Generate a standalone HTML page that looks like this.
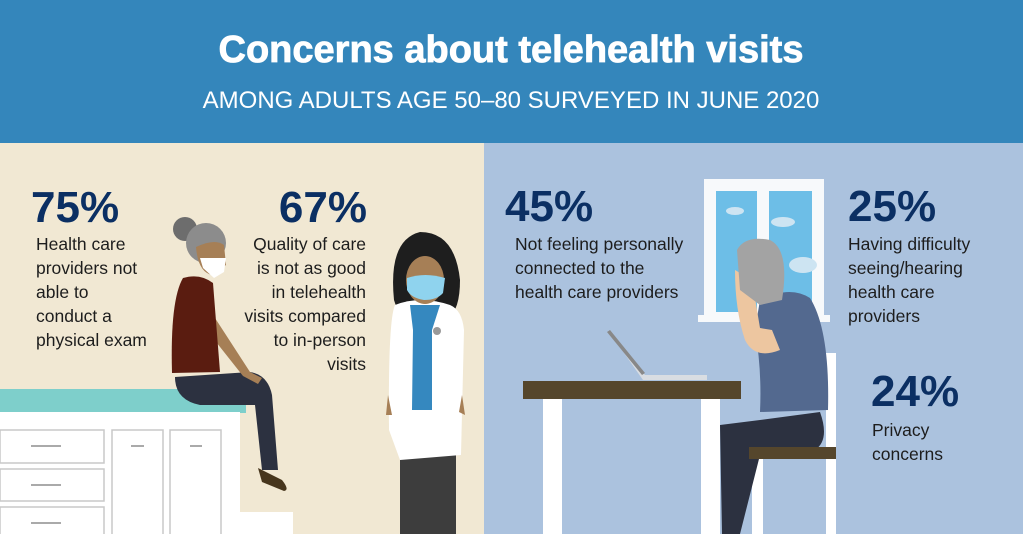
<!DOCTYPE html>
<html><head><meta charset="utf-8"><style>
body{margin:0;width:1023px;height:534px;overflow:hidden;font-family:"Liberation Sans",sans-serif}
svg{display:block}
.big{font-family:"Liberation Sans",sans-serif;font-weight:bold;font-size:44px;fill:#0b2f63}
.t{font-family:"Liberation Sans",sans-serif;font-size:17.5px;fill:#1d1d1d}
</style></head><body>
<svg width="1023" height="534" viewBox="0 0 1023 534">
<rect x="0" y="0" width="1023" height="143" fill="#3486bb"/>
<text x="511" y="62" text-anchor="middle" font-size="38" font-weight="bold" fill="#fff" font-family="Liberation Sans" stroke="#fff" stroke-width="0.8">Concerns about telehealth visits</text>
<text x="511" y="108" text-anchor="middle" font-size="24" fill="#fff" font-family="Liberation Sans">AMONG ADULTS AGE 50–80 SURVEYED IN JUNE 2020</text>
<rect x="0" y="143" width="484" height="391" fill="#f1e8d3"/>
<rect x="484" y="143" width="539" height="391" fill="#abc2de"/>

<g>
<rect x="240" y="512" width="53" height="22" fill="#fff"/>
<rect x="0" y="389" width="246" height="24" fill="#7ecfcb"/>
<rect x="0" y="412" width="240" height="122" fill="#fff"/>
<g fill="none" stroke="#c8c8c8" stroke-width="1.5">
<rect x="0" y="430" width="104" height="33"/><rect x="0" y="469" width="104" height="32"/><rect x="0" y="507" width="104" height="30"/>
<rect x="112" y="430" width="51" height="106"/><rect x="170" y="430" width="51" height="106"/></g>
<g stroke="#aaa" stroke-width="2"><line x1="31" y1="446" x2="61" y2="446"/><line x1="31" y1="485" x2="61" y2="485"/><line x1="31" y1="523" x2="61" y2="523"/><line x1="131" y1="446" x2="144" y2="446"/><line x1="190" y1="446" x2="202" y2="446"/></g>
</g>
<g>
<path d="M175 377 Q175 400 200 405 L255 405 L262 470 L278 470 L272 395 Q268 375 250 372 Z" fill="#2c3140"/>
<path d="M258 468 L282 480 Q290 490 284 491 L262 482 Z" fill="#47361d"/>
<path d="M192 290 Q210 300 215 318 L250 372 L262 378 L258 384 L243 376 L205 328 Z" fill="#a67f56"/>
<path d="M183 278 Q200 273 213 283 L220 372 L172 373 Q170 300 183 278 Z" fill="#5a1c10"/>
<circle cx="185" cy="229" r="12" fill="#6d6d6d"/>
<ellipse cx="206" cy="243" rx="20" ry="20" fill="#8c8c8c"/>
<path d="M196 247 Q198 272 212 275 L226 265 L224 245 Q215 238 196 247 Z" fill="#a67f56"/>
<path d="M200 258 L226 258 L224 272 L214 278 L203 268 Z" fill="#fff"/>
</g>
<g>
<path d="M394 300 Q388 240 420 232 Q455 232 460 280 Q460 310 448 318 L400 318 Z" fill="#1e1e1e"/>
<rect x="400" y="455" width="56" height="79" fill="#3d3d3d"/>
<path d="M395 305 Q420 295 450 305 Q462 310 464 330 L461 455 L400 460 L389 430 Q388 320 395 305 Z" fill="#fff"/>
<path d="M410 305 L440 305 L432 330 L432 410 L412 410 L413 330 Z" fill="#3588bf"/>
<circle cx="437" cy="331" r="4" fill="#999"/>
<path d="M388 395 L386 415 L392 415 Z M462 395 L465 415 L459 412 Z" fill="#a67f56"/>
<ellipse cx="425" cy="280" rx="19" ry="24" fill="#a67f56"/>
<path d="M407 278 Q425 272 445 278 L443 293 Q437 300 424 300 Q411 298 407 290 Z" fill="#8fd3ee"/>
</g>
<g>
<rect x="704" y="179" width="120" height="142" fill="#f7f9fb"/>
<rect x="716" y="191" width="41" height="121" fill="#6dbee7"/>
<rect x="769" y="191" width="43" height="121" fill="#6dbee7"/>
<rect x="698" y="315" width="132" height="7" fill="#f7f9fb"/>
<ellipse cx="735" cy="211" rx="9" ry="4" fill="#cde4f2"/><ellipse cx="783" cy="222" rx="12" ry="5" fill="#cde4f2"/><ellipse cx="803" cy="265" rx="14" ry="8" fill="#cde4f2"/>
</g>
<g>
<rect x="543" y="397" width="19" height="137" fill="#fff"/><rect x="701" y="397" width="19" height="137" fill="#fff"/>
<rect x="523" y="381" width="218" height="18" fill="#55462c"/>
<path d="M608 330 L645 375 L707 375 L707 380 L643 380 Z" fill="#d9dde2"/>
<path d="M610 330 L645 373 L642 375 L607 332 Z" fill="#888"/>
</g>
<g>
<rect x="826" y="353" width="10" height="181" fill="#fff"/>
<rect x="752" y="457" width="11" height="77" fill="#fff"/>
<path d="M720 425 L760 420 L820 412 Q830 440 815 450 L760 455 L740 534 L722 534 Z" fill="#2c3140"/>
<rect x="749" y="447" width="87" height="12" fill="#55462c"/>
<path d="M760 300 Q790 285 810 298 Q830 330 828 410 L760 412 Q762 370 755 330 Z" fill="#53698f"/>
<path d="M735 270 Q735 310 745 340 Q755 360 780 350 L772 330 L760 328 L752 280 Z" fill="#edc6a0"/>
<path d="M737 250 Q745 235 770 240 Q790 250 782 300 L760 305 L740 290 Z" fill="#a3a3a3"/>
</g>

<g>
<text class="big" x="31" y="222">75%</text>
<text class="t"><tspan x="36" y="250">Health care</tspan><tspan x="36" y="274">providers not</tspan><tspan x="36" y="298">able to</tspan><tspan x="36" y="322">conduct a</tspan><tspan x="36" y="346">physical exam</tspan></text>
</g>
<g>
<text class="big" x="367" y="222" text-anchor="end">67%</text>
<text class="t" text-anchor="end"><tspan x="366" y="250">Quality of care</tspan><tspan x="366" y="274">is not as good</tspan><tspan x="366" y="298">in telehealth</tspan><tspan x="366" y="322">visits compared</tspan><tspan x="366" y="346">to in-person</tspan><tspan x="366" y="370">visits</tspan></text>
</g>
<g>
<text class="big" x="505" y="221">45%</text>
<text class="t"><tspan x="515" y="250">Not feeling personally</tspan><tspan x="515" y="274">connected to the</tspan><tspan x="515" y="298">health care providers</tspan></text>
</g>
<g>
<text class="big" x="848" y="221">25%</text>
<text class="t"><tspan x="848" y="250">Having difficulty</tspan><tspan x="848" y="274">seeing/hearing</tspan><tspan x="848" y="298">health care</tspan><tspan x="848" y="322">providers</tspan></text>
</g>
<g>
<text class="big" x="871" y="406">24%</text>
<text class="t"><tspan x="872" y="436">Privacy</tspan><tspan x="872" y="460">concerns</tspan></text>
</g>
</svg>
</body></html>
